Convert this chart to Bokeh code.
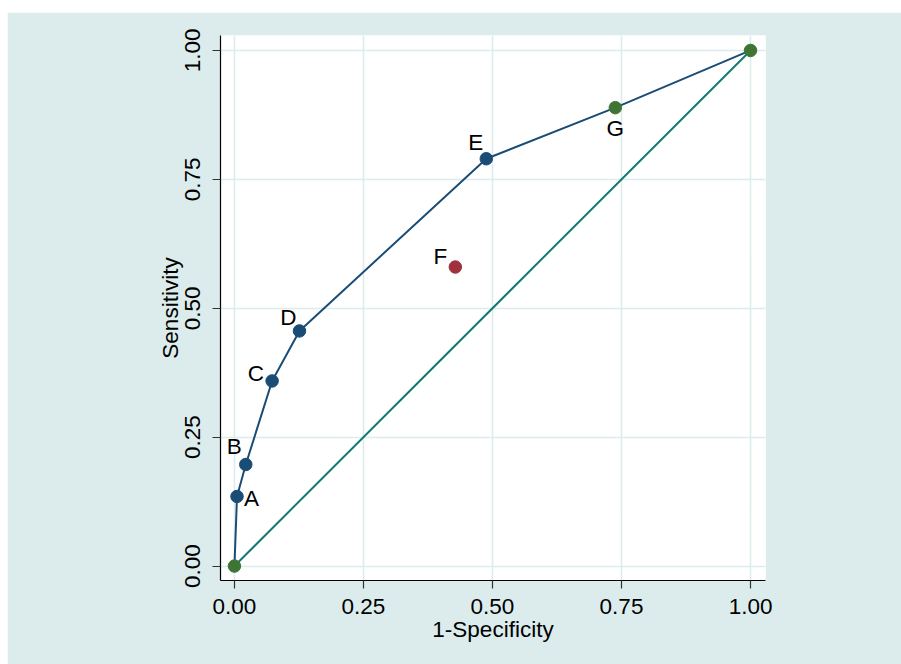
from bokeh.plotting import figure
from bokeh.models import ColumnDataSource, FixedTicker, Range1d, LabelSet
from bokeh.core.properties import value
from bokeh.embed import file_html
from bokeh.resources import INLINE

# ---- data ----
curve_labels = ["", "A", "B", "C", "D", "E", "G", ""]
curve_fpr = [0.0, 0.005, 0.022, 0.073, 0.126, 0.488, 0.738, 1.0]
curve_sens = [0.0, 0.135, 0.197, 0.359, 0.456, 0.790, 0.889, 1.0]

blue_labels = ["A", "B", "C", "D", "E"]
blue_fpr = [0.005, 0.022, 0.073, 0.126, 0.488]
blue_sens = [0.135, 0.197, 0.359, 0.456, 0.790]

green_labels = ["", "G", ""]
green_fpr = [0.0, 0.738, 1.0]
green_sens = [0.0, 0.889, 1.0]

red_labels = ["F"]
red_fpr = [0.428]
red_sens = [0.580]

diag_x = [0.0, 1.0]
diag_y = [0.0, 1.0]

tick_values = [0.0, 0.25, 0.5, 0.75, 1.0]
tick_labels = ["0.00", "0.25", "0.50", "0.75", "1.00"]

# ---- style ----
BG = "#dcecec"
NAVY = "#1a4d76"
GREEN = "#3f7534"
MAROON = "#a0323e"
TEAL = "#127a70"
FONT = "Liberation Sans"
FS = "22.5px"

p = figure(output_backend="svg", toolbar_location=None,
           frame_width=545, frame_height=545,
           min_border_left=213, min_border_right=136,
           min_border_top=23, min_border_bottom=84,
           x_range=Range1d(-0.027, 1.029), y_range=Range1d(-0.028, 1.029))
p.margin = (12, 0, 0, 7)
p.background_fill_color = "white"
p.border_fill_color = BG
p.outline_line_color = None

p.xaxis.axis_label = "1-Specificity"
p.yaxis.axis_label = "Sensitivity"
for ax in (p.xaxis[0], p.yaxis[0]):
    ax.ticker = FixedTicker(ticks=tick_values)
    ax.major_label_overrides = {v: l for v, l in zip(tick_values, tick_labels)}
    ax.minor_tick_line_color = None
    ax.major_tick_in = 0
    ax.major_tick_out = 8
    ax.major_tick_line_color = "#333333"
    ax.major_tick_line_width = 1.2
    ax.axis_line_color = "black"
    ax.axis_line_width = 1.2
    ax.major_label_text_font = FONT
    ax.major_label_text_font_size = FS
    ax.major_label_text_color = "black"
    ax.axis_label_text_font = FONT
    ax.axis_label_text_font_size = FS
    ax.axis_label_text_font_style = "normal"
    ax.axis_label_text_color = "black"
p.xaxis.major_label_standoff = 10
p.xaxis.axis_label_standoff = 0
p.yaxis.major_label_orientation = "vertical"
p.yaxis.major_label_standoff = 12
p.yaxis.axis_label_standoff = 0

for g in (p.xgrid[0], p.ygrid[0]):
    g.ticker = FixedTicker(ticks=tick_values)
    g.grid_line_color = BG
    g.grid_line_width = 1.6

# diagonal reference
p.line(diag_x, diag_y, line_color=TEAL, line_width=2)
# ROC curve
p.line(curve_fpr, curve_sens, line_color=NAVY, line_width=2)

p.scatter(blue_fpr, blue_sens, size=12.5, color=NAVY)
p.scatter(green_fpr, green_sens, size=12.5, color=GREEN)
p.scatter(red_fpr, red_sens, size=12.5, color=MAROON)

# label placements (screen pixel offsets), keyed by label
placement = {
    "A": (7, 2, "left"),
    "B": (-4, -18, "right"),
    "C": (-8, -7, "right"),
    "D": (-3, -13, "right"),
    "E": (-3, -16, "right"),
    "F": (-8, -11, "right"),
    "G": (0, 21, "center"),
}
all_labels = blue_labels + red_labels + green_labels
all_x = blue_fpr + red_fpr + green_fpr
all_y = blue_sens + red_sens + green_sens
for lab, xv, yv in zip(all_labels, all_x, all_y):
    if not lab:
        continue
    dx, dy, al = placement[lab]
    src = ColumnDataSource(dict(x=[xv], y=[yv], t=[lab]))
    p.add_layout(LabelSet(x="x", y="y", text="t", source=src,
                          x_offset=dx, y_offset=-dy,
                          text_align=al, text_baseline="middle",
                          text_font=value(FONT), text_font_size=FS,
                          text_color="black"))

open("out.html", "w").write(file_html(p, INLINE))
